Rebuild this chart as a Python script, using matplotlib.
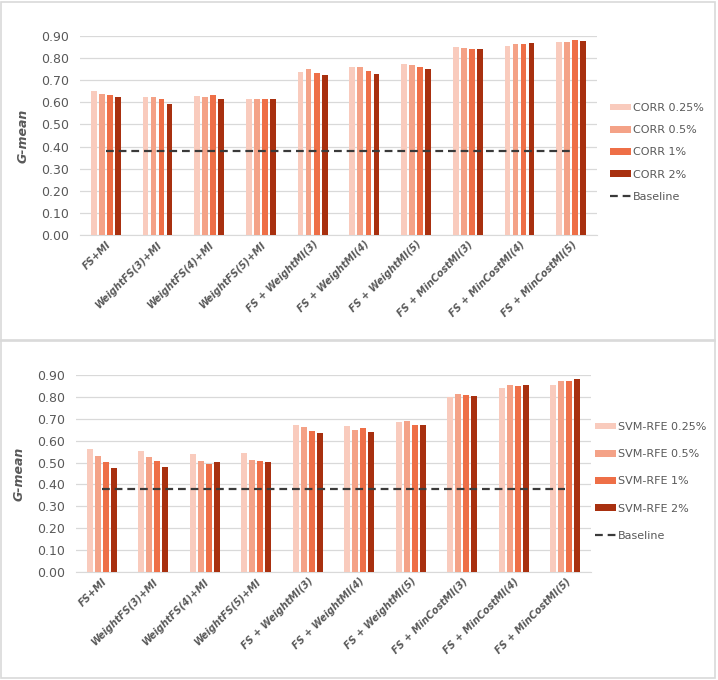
import numpy as np
import matplotlib.pyplot as plt
from matplotlib.patches import Rectangle

# method names on the x axis
methods = ["FS+MI", "WeightFS(3)+MI", "WeightFS(4)+MI", "WeightFS(5)+MI",
           "FS + WeightMI(3)", "FS + WeightMI(4)", "FS + WeightMI(5)",
           "FS + MinCostMI(3)", "FS + MinCostMI(4)", "FS + MinCostMI(5)"]

# G-mean values, top panel (CORR)
corr_025 = [0.649, 0.626, 0.628, 0.617, 0.738, 0.761, 0.773, 0.850, 0.856, 0.872]
corr_05 = [0.638, 0.622, 0.622, 0.614, 0.749, 0.761, 0.768, 0.847, 0.865, 0.871]
corr_1 = [0.631, 0.616, 0.631, 0.614, 0.734, 0.741, 0.761, 0.841, 0.865, 0.881]
corr_2 = [0.626, 0.592, 0.613, 0.613, 0.722, 0.728, 0.749, 0.841, 0.868, 0.878]

# G-mean values, bottom panel (SVM-RFE)
svm_025 = [0.561, 0.555, 0.538, 0.545, 0.671, 0.665, 0.686, 0.798, 0.840, 0.856]
svm_05 = [0.529, 0.525, 0.508, 0.512, 0.662, 0.650, 0.691, 0.815, 0.856, 0.872]
svm_1 = [0.503, 0.509, 0.494, 0.509, 0.644, 0.657, 0.671, 0.808, 0.850, 0.874]
svm_2 = [0.474, 0.480, 0.503, 0.502, 0.635, 0.639, 0.670, 0.802, 0.854, 0.882]

baseline = 0.38
pcts = ["0.25%", "0.5%", "1%", "2%"]
colors = ["#F9CBBD", "#F4A287", "#EE6F47", "#A8300F"]
text_grey = "#595959"

fig = plt.figure(figsize=(7.18, 6.8), dpi=100)

# light panel borders like the two stacked chart boxes
for y0, h in [(1 - 341 / 680, 339 / 680), (2 / 680, 338 / 680)]:
    fig.patches.append(Rectangle((0.002, y0), 0.994, h, transform=fig.transFigure,
                                 fill=False, edgecolor="#D9D9D9", linewidth=1.2))


def draw_panel(ax, series, prefix, legend_xy, spacing):
    x = np.arange(len(methods))
    step = 0.155
    width = 0.11
    handles = []
    for i, vals in enumerate(series):
        b = ax.bar(x + (i - 1.5) * step, vals, width, color=colors[i],
                   label=f"{prefix} {pcts[i]}", zorder=3)
        handles.append(b)
    line, = ax.plot([x[0], x[-1]], [baseline, baseline], color="#3A3A3A",
                    linestyle=(0, (3.5, 2.2)), linewidth=1.6, label="Baseline", zorder=4)
    handles.append(line)
    ax.set_xlim(-0.5, len(methods) - 0.5)
    ax.set_ylim(0, 0.9)
    ax.set_yticks(np.arange(0, 0.91, 0.1))
    ax.set_yticklabels([f"{v:.2f}" for v in np.arange(0, 0.91, 0.1)])
    ax.yaxis.grid(True, color="#D9D9D9", linewidth=0.9, zorder=0)
    ax.set_axisbelow(True)
    for s in ["top", "right", "left"]:
        ax.spines[s].set_visible(False)
    ax.spines["bottom"].set_color("#D9D9D9")
    ax.tick_params(axis="y", length=0, labelsize=9, colors=text_grey, pad=8)
    ax.tick_params(axis="x", length=0, pad=3)
    ax.set_xticks(x)
    ax.set_xticklabels(methods, rotation=45, ha="right", rotation_mode="anchor",
                       fontsize=7, fontweight="bold", fontstyle="italic", color=text_grey)
    ax.set_ylabel("G-mean", fontsize=9, fontweight="bold", fontstyle="italic",
                  color=text_grey, labelpad=8)
    fig.legend(handles=handles, loc="upper left", bbox_to_anchor=legend_xy,
               bbox_transform=fig.transFigure, frameon=False, fontsize=8,
               labelcolor=text_grey, handlelength=1.9, handleheight=0.55,
               labelspacing=spacing, handletextpad=0.2, borderpad=0, borderaxespad=0)


ax1 = fig.add_axes([80 / 718, 1 - 235 / 680, 517 / 718, 199 / 680])
draw_panel(ax1, [corr_025, corr_05, corr_1, corr_2], "CORR",
           (610 / 718, 1 - 103 / 680), 1.1)

ax2 = fig.add_axes([76 / 718, 1 - 572 / 680, 515 / 718, 197 / 680])
draw_panel(ax2, [svm_025, svm_05, svm_1, svm_2], "SVM-RFE",
           (595 / 718, 1 - 422 / 680), 1.55)

fig.savefig("out.png", dpi=100)
